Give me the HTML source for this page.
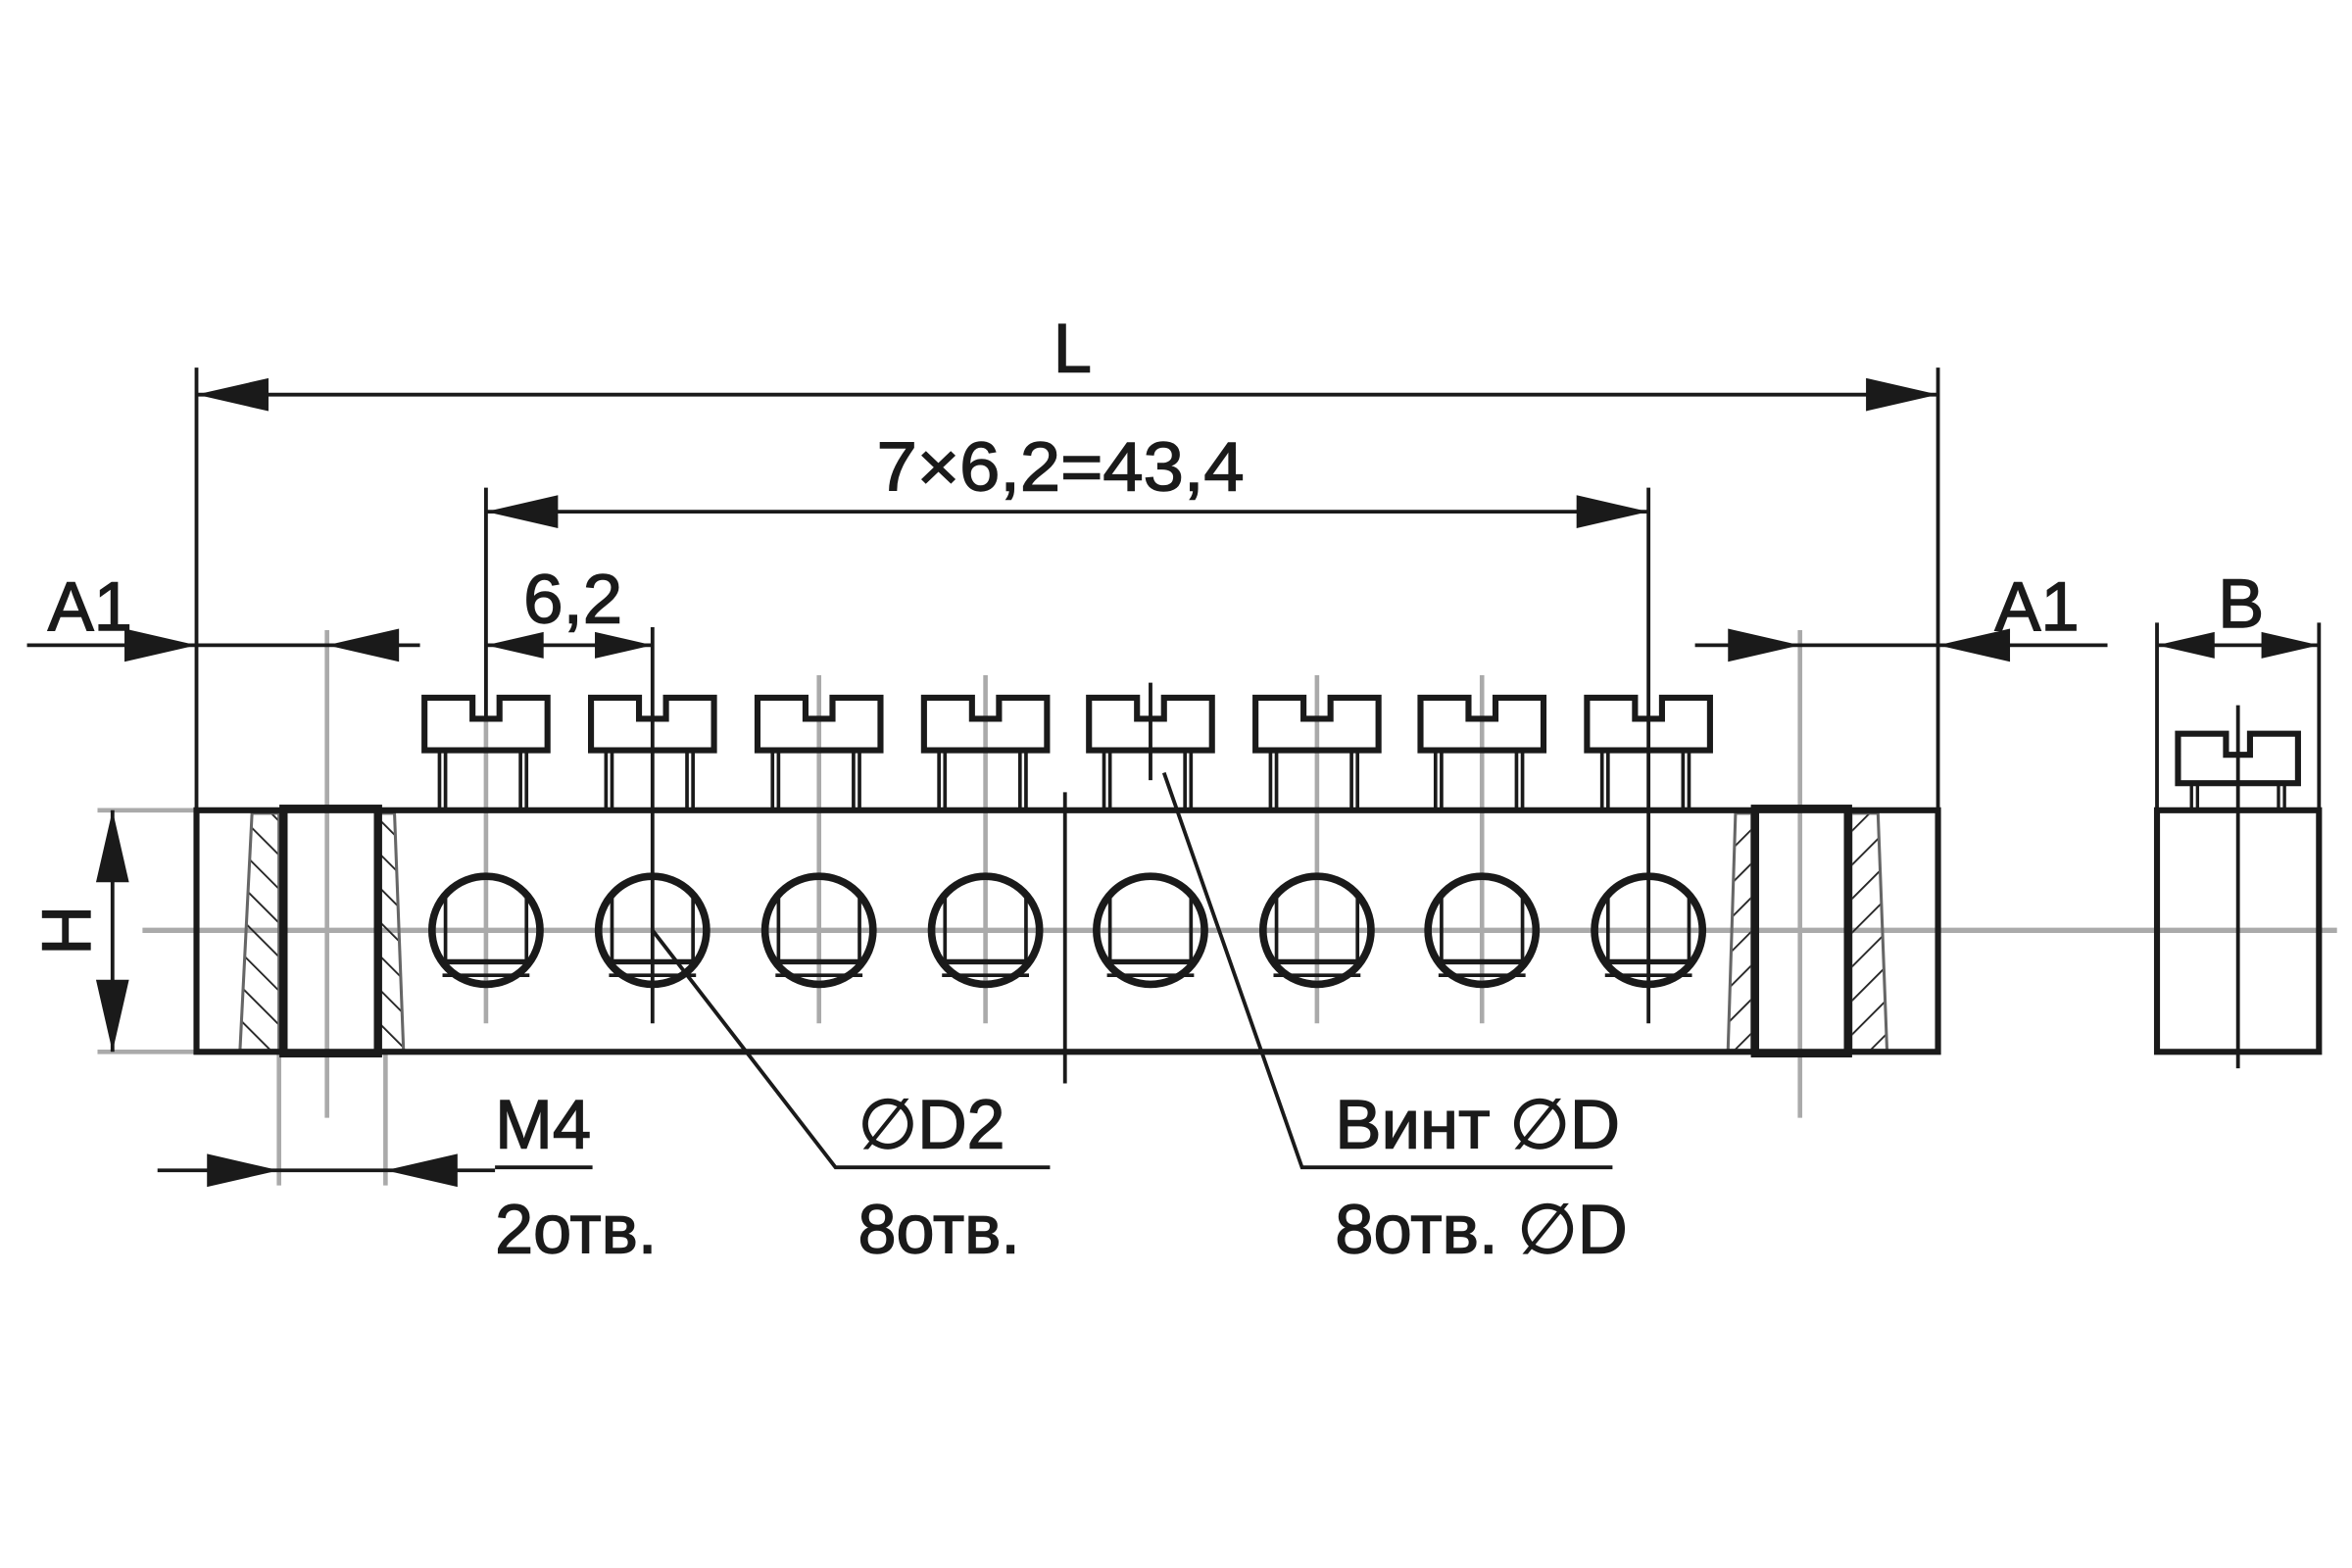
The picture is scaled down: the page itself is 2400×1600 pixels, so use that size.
<!DOCTYPE html>
<html><head><meta charset="utf-8"><style>
html,body{margin:0;padding:0;background:#fff;}
svg{display:block;}
text{font-family:"Liberation Sans Narrow","Liberation Sans",sans-serif;fill:#1a1a1a;stroke:#1a1a1a;stroke-width:0.9;font-size:46px;}
</style></head><body>
<svg width="2400" height="1600" viewBox="0 0 1568 1045" preserveAspectRatio="none" xmlns="http://www.w3.org/2000/svg">
<defs>
<g id="screw">
  <path d="M-41,465 H-9 V479 H9 V465 H41 V500 H-41 Z" fill="none" stroke="#1a1a1a" stroke-width="4"/>
  <path d="M-31,500 V540 M-27,500 V540 M23,500 V540 M27,500 V540" stroke="#1a1a1a" stroke-width="2.4"/>
</g>
<g id="hole">
  <circle cx="0" cy="620" r="36" fill="none" stroke="#1a1a1a" stroke-width="5"/>
  <path d="M-27,598 V642 M27,598 V642" stroke="#1a1a1a" stroke-width="2.4"/>
  <path d="M-31,641 H31" stroke="#1a1a1a" stroke-width="3.5"/>
  <path d="M-29,650 H29" stroke="#1a1a1a" stroke-width="2.4"/>
</g>
<g id="arR"><path d="M0,0 L-48,-11 L-48,11 Z" fill="#1a1a1a"/></g>
<g id="arL"><path d="M0,0 L48,-11 L48,11 Z" fill="#1a1a1a"/></g>
<g id="arD"><path d="M0,0 L-11,-48 L11,-48 Z" fill="#1a1a1a"/></g>
<g id="arU"><path d="M0,0 L-11,48 L11,48 Z" fill="#1a1a1a"/></g>
<pattern id="hatchA" width="16" height="16" patternUnits="userSpaceOnUse" patternTransform="rotate(-45)">
  <line x1="0" y1="0" x2="0" y2="16" stroke="#222" stroke-width="2.4"/>
</pattern>
<pattern id="hatchB" width="16" height="16" patternUnits="userSpaceOnUse" patternTransform="rotate(45)">
  <line x1="0" y1="0" x2="0" y2="16" stroke="#222" stroke-width="2.4"/>
</pattern>
</defs>

<line x1="95" y1="620" x2="1558" y2="620" stroke="#aaa" stroke-width="3.5"/>

<g stroke="#aaa" stroke-width="3">
<line x1="218" y1="420" x2="218" y2="745"/>
<line x1="1200" y1="420" x2="1200" y2="745"/>
<line x1="186" y1="700" x2="186" y2="790"/>
<line x1="257" y1="700" x2="257" y2="790"/>
<line x1="324" y1="480" x2="324" y2="682"/>
<line x1="546" y1="450" x2="546" y2="682"/>
<line x1="657" y1="450" x2="657" y2="682"/>
<line x1="878" y1="450" x2="878" y2="682"/>
<line x1="988" y1="450" x2="988" y2="682"/>
<line x1="65" y1="540" x2="131" y2="540"/>
<line x1="65" y1="701" x2="131" y2="701"/>
</g>

<path d="M168,542 L186,542 L186,700 L160,700 Z" fill="url(#hatchA)" stroke="#666" stroke-width="2"/>
<path d="M253,542 L263,542 L269,700 L253,700 Z" fill="url(#hatchA)" stroke="#666" stroke-width="2"/>
<path d="M1157,542 L1168,542 L1168,700 L1152,700 Z" fill="url(#hatchB)" stroke="#666" stroke-width="2"/>
<path d="M1234,542 L1252,542 L1258,700 L1234,700 Z" fill="url(#hatchB)" stroke="#666" stroke-width="2"/>

<rect x="131" y="540" width="1161" height="161" fill="none" stroke="#1a1a1a" stroke-width="4"/>
<rect x="189" y="539" width="63" height="163" fill="none" stroke="#1a1a1a" stroke-width="5.5"/>
<rect x="1170" y="539" width="62" height="163" fill="none" stroke="#1a1a1a" stroke-width="5.5"/>

<g transform="translate(324,0)"><use href="#screw"/><use href="#hole"/></g>
<g transform="translate(435,0)"><use href="#screw"/><use href="#hole"/></g>
<g transform="translate(546,0)"><use href="#screw"/><use href="#hole"/></g>
<g transform="translate(657,0)"><use href="#screw"/><use href="#hole"/></g>
<g transform="translate(767,0)"><use href="#screw"/><use href="#hole"/></g>
<g transform="translate(878,0)"><use href="#screw"/><use href="#hole"/></g>
<g transform="translate(988,0)"><use href="#screw"/><use href="#hole"/></g>
<g transform="translate(1099,0)"><use href="#screw"/><use href="#hole"/></g>

<g stroke="#1a1a1a" stroke-width="2.5" fill="none">
<line x1="131" y1="245" x2="131" y2="540"/>
<line x1="1292" y1="245" x2="1292" y2="540"/>
<line x1="131" y1="263" x2="1292" y2="263"/>
<line x1="324" y1="325" x2="324" y2="480"/>
<line x1="1099" y1="325" x2="1099" y2="682"/>
<line x1="324" y1="341" x2="1099" y2="341"/>
<line x1="435" y1="418" x2="435" y2="682"/>
<line x1="324" y1="430" x2="435" y2="430"/>
<line x1="18" y1="430" x2="280" y2="430"/>
<line x1="1130" y1="430" x2="1405" y2="430"/>
<line x1="1438" y1="430" x2="1546" y2="430"/>
<line x1="1438" y1="415" x2="1438" y2="540"/>
<line x1="1546" y1="415" x2="1546" y2="540"/>
<line x1="75" y1="540" x2="75" y2="701"/>
<line x1="105" y1="780" x2="330" y2="780"/>
<line x1="330" y1="778" x2="395" y2="778"/>
<line x1="710" y1="528" x2="710" y2="722"/>
<line x1="767" y1="455" x2="767" y2="520"/>
<path d="M435,620 L557,778 L700,778"/>
<path d="M776,515 L868,778 L1075,778"/>
<line x1="1492" y1="470" x2="1492" y2="712"/>
</g>

<use href="#arL" x="131" y="263"/>
<use href="#arR" x="1292" y="263"/>
<use href="#arL" x="324" y="341"/>
<use href="#arR" x="1099" y="341"/>
<g transform="translate(324,430) scale(0.8)"><use href="#arL"/></g>
<g transform="translate(435,430) scale(0.8)"><use href="#arR"/></g>
<use href="#arR" x="131" y="430"/>
<use href="#arL" x="218" y="430"/>
<use href="#arR" x="1200" y="430"/>
<use href="#arL" x="1292" y="430"/>
<g transform="translate(1438,430) scale(0.8)"><use href="#arL"/></g>
<g transform="translate(1546,430) scale(0.8)"><use href="#arR"/></g>
<use href="#arU" x="75" y="540"/>
<use href="#arD" x="75" y="701"/>
<use href="#arR" x="186" y="780"/>
<use href="#arL" x="257" y="780"/>

<rect x="1438" y="540" width="108" height="161" fill="none" stroke="#1a1a1a" stroke-width="4"/>
<path d="M1452,489 H1484 V503 H1500 V489 H1532 V522 H1452 Z" fill="none" stroke="#1a1a1a" stroke-width="4"/>
<path d="M1461,522 V540 M1465,522 V540 M1519,522 V540 M1523,522 V540" stroke="#1a1a1a" stroke-width="2.2"/>

<text x="715" y="248" text-anchor="middle">L</text>
<text x="707" y="327" text-anchor="middle" textLength="245" lengthAdjust="spacingAndGlyphs">7×6,2=43,4</text>
<text x="382" y="415" text-anchor="middle" textLength="66" lengthAdjust="spacingAndGlyphs">6,2</text>
<text x="60" y="420" text-anchor="middle">A1</text>
<text x="1358" y="420" text-anchor="middle">A1</text>
<text x="1494" y="418" text-anchor="middle">B</text>
<text x="0" y="0" text-anchor="middle" transform="translate(60,620) rotate(-90)">H</text>
<text x="330" y="765" textLength="64" lengthAdjust="spacingAndGlyphs">M4</text>
<text x="330" y="835" textLength="108" lengthAdjust="spacingAndGlyphs">2отв.</text>
<text x="572" y="765" textLength="98" lengthAdjust="spacingAndGlyphs">∅D2</text>
<text x="572" y="835" textLength="108" lengthAdjust="spacingAndGlyphs">8отв.</text>
<text x="890" y="765" textLength="190" lengthAdjust="spacingAndGlyphs">Винт ∅D</text>
<text x="890" y="835" textLength="195" lengthAdjust="spacingAndGlyphs">8отв. ∅D</text>
</svg>
</body></html>
